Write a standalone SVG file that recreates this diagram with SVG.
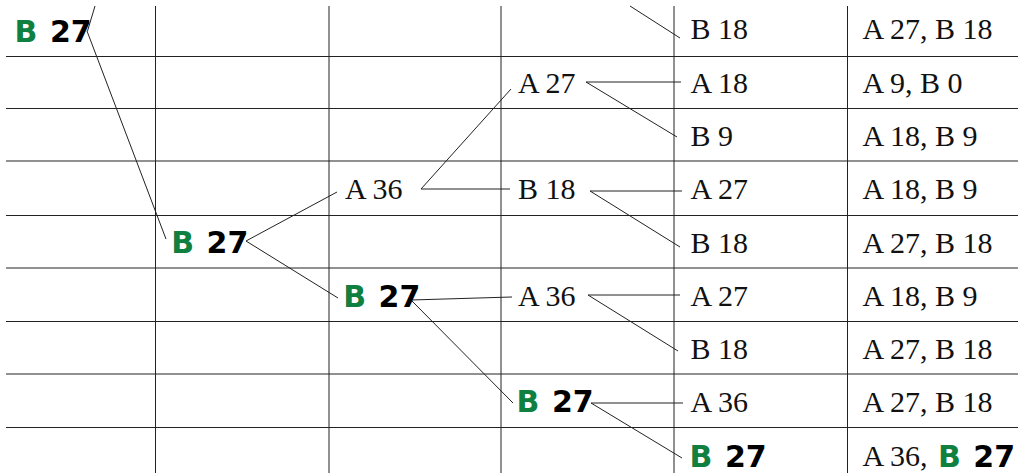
<svg xmlns="http://www.w3.org/2000/svg" width="1018" height="473" viewBox="0 0 1018 473">
<style>
.grid line{stroke:#222;stroke-width:1;fill:none}
.conn line{stroke:#222;stroke-width:1;fill:none}
.s{font-family:"Liberation Serif","Times New Roman",serif;font-size:30px;fill:#111}
.b{font-family:"DejaVu Sans","Verdana",sans-serif;font-weight:bold;font-size:30px;fill:#000;word-spacing:2px}
.g{fill:#108040}
</style>
<rect width="1018" height="473" fill="#fff"/>
<g id="grid" class="grid">
<line x1="6" y1="56.5" x2="1018" y2="56.5"/>
<line x1="6" y1="108.5" x2="1018" y2="108.5"/>
<line x1="6" y1="161" x2="1018" y2="161"/>
<line x1="6" y1="215.5" x2="1018" y2="215.5"/>
<line x1="6" y1="268" x2="1018" y2="268"/>
<line x1="6" y1="321.5" x2="1018" y2="321.5"/>
<line x1="6" y1="374" x2="1018" y2="374"/>
<line x1="6" y1="427.5" x2="1018" y2="427.5"/>
<line x1="155.5" y1="6" x2="155.5" y2="473"/>
<line x1="329" y1="6" x2="329" y2="473"/>
<line x1="501" y1="6" x2="501" y2="473"/>
<line x1="674" y1="6" x2="674" y2="473"/>
<line x1="847.5" y1="6" x2="847.5" y2="473"/>
</g>
<g id="connectors" class="conn">
<line x1="95" y1="6" x2="87.5" y2="31"/>
<line x1="87" y1="31" x2="166" y2="239"/>
<line x1="246" y1="241" x2="337" y2="192"/>
<line x1="246" y1="241" x2="338" y2="298"/>
<line x1="421" y1="189" x2="511" y2="89"/>
<line x1="421" y1="189" x2="510" y2="189"/>
<line x1="586" y1="82" x2="681" y2="82"/>
<line x1="586" y1="82" x2="677" y2="137"/>
<line x1="630" y1="6" x2="680" y2="38"/>
<line x1="590" y1="191" x2="682" y2="191"/>
<line x1="590" y1="191" x2="680" y2="247"/>
<line x1="411" y1="300" x2="512" y2="297"/>
<line x1="412" y1="301" x2="513" y2="403"/>
<line x1="588" y1="295" x2="680" y2="295"/>
<line x1="588" y1="295" x2="678" y2="351"/>
<line x1="591" y1="403" x2="683" y2="403"/>
<line x1="591" y1="403" x2="682" y2="458"/>
</g>
<g id="c0r0"><text class="b" x="14.6" y="41.5"><tspan class="g">B</tspan> 27</text></g>
<g id="c1r4"><text class="b" x="171.3" y="253.3"><tspan class="g">B</tspan> 27</text></g>
<g id="c2r3"><text class="s" x="345" y="199.2">A 36</text></g>
<g id="c2r5"><text class="b" x="343.3" y="306.7"><tspan class="g">B</tspan> 27</text></g>
<g id="c3r1"><text class="s" x="518" y="92.6">A 27</text></g>
<g id="c3r3"><text class="s" x="518" y="199.2">B 18</text></g>
<g id="c3r5"><text class="s" x="518" y="305.8">A 36</text></g>
<g id="c3r7"><text class="b" x="516.6" y="412"><tspan class="g">B</tspan> 27</text></g>
<g id="c4r0"><text class="s" x="690.5" y="39.3">B 18</text></g>
<g id="c4r1"><text class="s" x="690.5" y="92.6">A 18</text></g>
<g id="c4r2"><text class="s" x="690.5" y="145.9">B 9</text></g>
<g id="c4r3"><text class="s" x="690.5" y="199.2">A 27</text></g>
<g id="c4r4"><text class="s" x="690.5" y="252.5">B 18</text></g>
<g id="c4r5"><text class="s" x="690.5" y="305.8">A 27</text></g>
<g id="c4r6"><text class="s" x="690.5" y="359.1">B 18</text></g>
<g id="c4r7"><text class="s" x="690.5" y="412.4">A 36</text></g>
<g id="c4r8"><text class="b" x="689.6" y="466.5"><tspan class="g">B</tspan> 27</text></g>
<g id="c5r0"><text class="s" x="862.5" y="39.3">A 27, B 18</text></g>
<g id="c5r1"><text class="s" x="862.5" y="92.6">A 9, B 0</text></g>
<g id="c5r2"><text class="s" x="862.5" y="145.9">A 18, B 9</text></g>
<g id="c5r3"><text class="s" x="862.5" y="199.2">A 18, B 9</text></g>
<g id="c5r4"><text class="s" x="862.5" y="252.5">A 27, B 18</text></g>
<g id="c5r5"><text class="s" x="862.5" y="305.8">A 18, B 9</text></g>
<g id="c5r6"><text class="s" x="862.5" y="359.1">A 27, B 18</text></g>
<g id="c5r7"><text class="s" x="862.5" y="412.4">A 27, B 18</text></g>
<g id="c5r8"><text class="s" x="862.5" y="465.7">A 36,</text><text class="b" x="938" y="466.5"><tspan class="g">B</tspan> 27</text></g>
</svg>
